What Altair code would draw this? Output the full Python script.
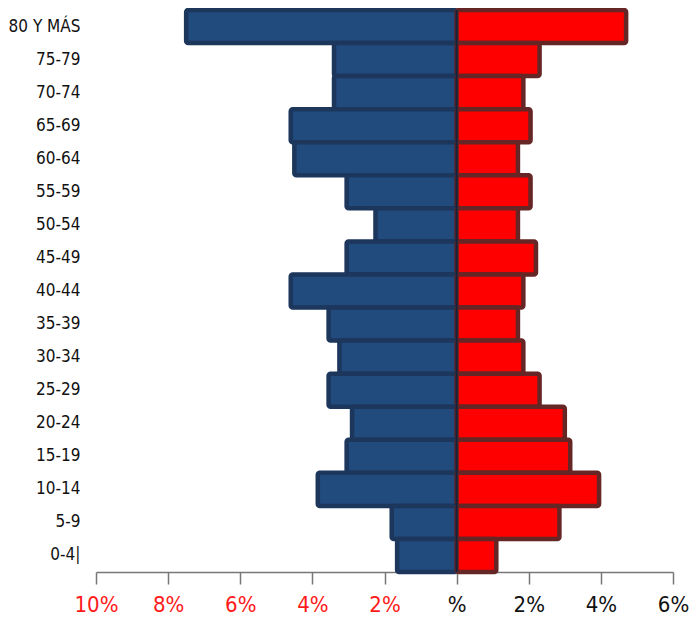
import altair as alt
import pandas as pd

ages = ["80 Y MÁS", "75-79", "70-74", "65-69", "60-64", "55-59", "50-54", "45-49",
        "40-44", "35-39", "30-34", "25-29", "20-24", "15-19", "10-14", "5-9", "0-4|"]
hombres = [7.5, 3.4, 3.4, 4.6, 4.5, 3.05, 2.25, 3.05, 4.6, 3.55, 3.25, 3.55, 2.9, 3.05, 3.85, 1.8, 1.65]
mujeres = [4.7, 2.3, 1.85, 2.05, 1.7, 2.05, 1.7, 2.2, 1.85, 1.7, 1.85, 2.3, 3.0, 3.15, 3.95, 2.85, 1.1]
x_ticks = [-10, -8, -6, -4, -2, 0, 2, 4, 6]

rows = []
for a, h, m in zip(ages, hombres, mujeres):
    rows.append({"edad": a, "sexo": "Hombres", "valor": -h, "cero": 0})
    rows.append({"edad": a, "sexo": "Mujeres", "valor": m, "cero": 0})
df = pd.DataFrame(rows)

FONT = "DejaVu Sans Condensed, Liberation Sans, Arial, sans-serif"

x_scale = alt.Scale(domain=[-10, 6], nice=False, zero=False)

bars = alt.Chart(df).mark_bar(strokeWidth=4.5, cornerRadius=2, strokeJoin="round").encode(
    y=alt.Y("edad:N", sort=ages, scale=alt.Scale(paddingInner=0, paddingOuter=0),
            axis=alt.Axis(title=None, domain=False, ticks=False, labelPadding=16,
                          labelFontSize=17, labelFont=FONT, labelColor="#111111")),
    x=alt.X("valor:Q", scale=x_scale,
            axis=alt.Axis(title=None, values=x_ticks, grid=False, domainColor="#777777",
                          domainWidth=1.5, tickColor="#777777", tickSize=12, tickWidth=1.5,
                          labelPadding=10, labelFontSize=22, labelFont=FONT,
                          labelFlush=False, labelOverlap=False,
                          labelExpr="datum.value == 0 ? '%' : abs(datum.value) + '%'",
                          labelColor={"condition": {"test": "datum.value < 0", "value": "#ff1a1a"},
                                      "value": "#111111"})),
    x2="cero:Q",
    color=alt.Color("sexo:N", scale=alt.Scale(domain=["Hombres", "Mujeres"],
                                              range=["#214a7d", "#ff0000"]), legend=None),
    stroke=alt.Stroke("sexo:N", scale=alt.Scale(domain=["Hombres", "Mujeres"],
                                                range=["#1c365c", "#652625"]), legend=None),
)

center = alt.Chart(pd.DataFrame({"x": [0]})).mark_rule(color="#14243f", strokeWidth=2).encode(
    x=alt.X("x:Q", scale=x_scale)
)

chart = alt.layer(bars, center).properties(
    width=577, height=562,
    autosize=alt.AutoSizeParams(type="none"),
    padding={"left": 88, "top": 2, "right": 17, "bottom": 50},
).configure_view(stroke=None)

chart.save("out.html", embed_options={"renderer": "svg", "actions": False})
